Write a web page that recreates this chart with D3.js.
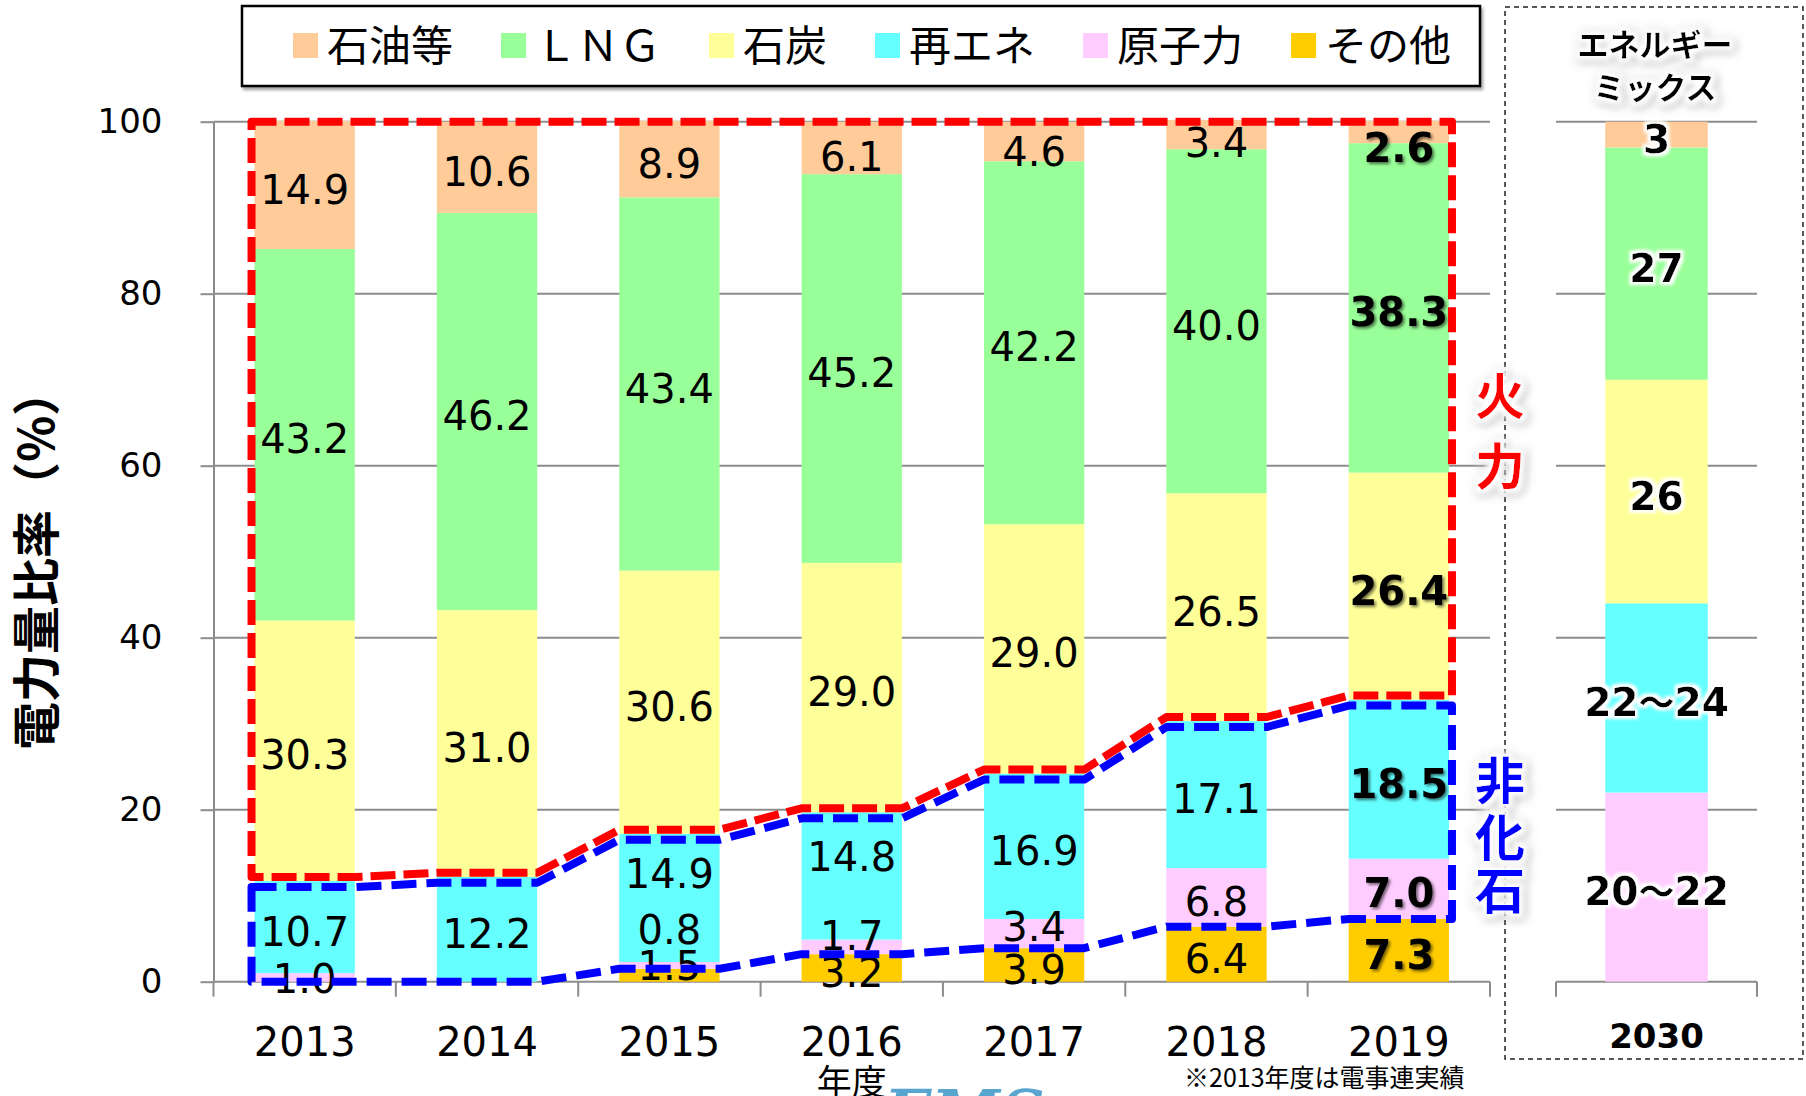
<!DOCTYPE html>
<html>
<head>
<meta charset="utf-8">
<script src="https://cdn.jsdelivr.net/npm/d3@7"></script>
<style>
html, body { margin: 0; padding: 0; background: #fff; }
svg { display: block; }
</style>
</head>
<body>
<svg id="chart" width="1806" height="1096"></svg>
<script>
// ---- data ----
const years = ["2013", "2014", "2015", "2016", "2017", "2018", "2019"];
const seriesKeys = ["other", "nuclear", "renew", "coal", "lng", "oil"]; // bottom -> top
const seriesNames = { oil: "石油等", lng: "ＬＮＧ", coal: "石炭", renew: "再エネ", nuclear: "原子力", other: "その他" };
const legendOrder = ["oil", "lng", "coal", "renew", "nuclear", "other"];

const oil     = [14.9, 10.6, 8.9, 6.1, 4.6, 3.4, 2.6];
const lng     = [43.2, 46.2, 43.4, 45.2, 42.2, 40.0, 38.3];
const coal    = [30.3, 31.0, 30.6, 29.0, 29.0, 26.5, 26.4];
const renew   = [10.7, 12.2, 14.9, 14.8, 16.9, 17.1, 18.5];
const nuclear = [1.0, 0, 0.8, 1.7, 3.4, 6.8, 7.0];
const other   = [0, 0, 1.5, 3.2, 3.9, 6.4, 7.3];

const mixYear = ["2030"];
const mixValues = { oil: 3, lng: 27, coal: 26, renew: 22, nuclear: 22, other: 0 };
const mixLabels = { oil: "3", lng: "27", coal: "26", renew: "22～24", nuclear: "20～22", other: "" };

const yTicks = [0, 20, 40, 60, 80, 100];

const colors = {
    oil: "#FFCC99",
    lng: "#99FF99",
    coal: "#FFFF99",
    renew: "#66FFFF",
    nuclear: "#FFCCFF",
    other: "#FFCC00"
};

// small manual label nudges (px) where the original labels were moved by hand
const labelNudge = {
    "2013|nuclear": -3,
    "2015|renew": -28, "2015|nuclear": -40, "2015|other": -14,
    "2016|renew": -24, "2016|nuclear": -15, "2016|oil": 4,
    "2017|nuclear": -11, "2017|oil": 6,
    "2018|oil": 4,
    "2019|oil": 11
};

// ---- setup ----
const svg = d3.select("#chart");
const numFont = "'DejaVu Sans', Verdana, sans-serif";
const jpFont = "'Noto Sans CJK JP', 'Noto Sans', sans-serif";
const gridColor = "#8c8c8c";

const rows = years.map((yr, i) => ({
    year: yr, oil: oil[i], lng: lng[i], coal: coal[i],
    renew: renew[i], nuclear: nuclear[i], other: other[i]
}));
const mixRows = [{ year: mixYear[0], ...mixValues }];

const x = d3.scaleBand().domain(years).range([213.5, 1490]).paddingInner(0.45).paddingOuter(0.225);
const x2 = d3.scaleBand().domain(mixYear).range([1556, 1757]).paddingInner(0.49).paddingOuter(0.245);
const y = d3.scaleLinear().domain([0, 100]).range([981.7, 121.7]);

const stack = d3.stack().keys(seriesKeys);
const stacked = stack(rows);
const mixStacked = stack(mixRows);

// ---- filters ----
const defs = svg.append("defs");

function dropShadow(id){
    const f = defs.append("filter").attr("id", id)
        .attr("x", "-20%").attr("y", "-20%").attr("width", "150%").attr("height", "150%");
    f.append("feGaussianBlur").attr("in", "SourceAlpha").attr("stdDeviation", 1.5).attr("result", "b");
    f.append("feOffset").attr("in", "b").attr("dx", 2).attr("dy", 2).attr("result", "o");
    f.append("feComponentTransfer").attr("in", "o").attr("result", "s")
        .append("feFuncA").attr("type", "linear").attr("slope", 0.55);
    const m = f.append("feMerge");
    m.append("feMergeNode").attr("in", "s");
    m.append("feMergeNode").attr("in", "SourceGraphic");
}
dropShadow("shadow");

function whiteGlow(id, radius, grey){
    const f = defs.append("filter").attr("id", id)
        .attr("x", "-40%").attr("y", "-40%").attr("width", "180%").attr("height", "180%");
    f.append("feMorphology").attr("in", "SourceAlpha").attr("operator", "dilate").attr("radius", radius).attr("result", "d");
    if (grey){
        f.append("feGaussianBlur").attr("in", "d").attr("stdDeviation", radius + 1).attr("result", "gb");
        f.append("feOffset").attr("in", "gb").attr("dx", 2).attr("dy", 2).attr("result", "gbo");
        f.append("feFlood").attr("flood-color", "#777").attr("flood-opacity", 0.55).attr("result", "gc");
        f.append("feComposite").attr("in", "gc").attr("in2", "gbo").attr("operator", "in").attr("result", "greyHalo");
    }
    f.append("feGaussianBlur").attr("in", "d").attr("stdDeviation", radius * 0.6).attr("result", "wb");
    f.append("feFlood").attr("flood-color", "#fff").attr("result", "wc");
    f.append("feComposite").attr("in", "wc").attr("in2", "wb").attr("operator", "in").attr("result", "whiteHalo");
    const m = f.append("feMerge");
    if (grey) m.append("feMergeNode").attr("in", "greyHalo");
    m.append("feMergeNode").attr("in", "whiteHalo");
    m.append("feMergeNode").attr("in", "SourceGraphic");
}
whiteGlow("glow", 3, false);
whiteGlow("glowShadow", 4, true);

const boxShadow = defs.append("filter").attr("id", "boxShadow")
    .attr("x", "-5%").attr("y", "-20%").attr("width", "110%").attr("height", "150%");
boxShadow.append("feGaussianBlur").attr("in", "SourceAlpha").attr("stdDeviation", 1.5).attr("result", "b");
boxShadow.append("feOffset").attr("in", "b").attr("dx", 2).attr("dy", 3).attr("result", "o");
boxShadow.append("feComponentTransfer").attr("in", "o").attr("result", "s")
    .append("feFuncA").attr("type", "linear").attr("slope", 0.35);
const bm = boxShadow.append("feMerge");
bm.append("feMergeNode").attr("in", "s");
bm.append("feMergeNode").attr("in", "SourceGraphic");

// ---- dashed frame around the 2030 panel ----
svg.append("rect")
    .attr("x", 1505).attr("y", 7).attr("width", 298).attr("height", 1052)
    .attr("fill", "none").attr("stroke", "#222").attr("stroke-width", 1.5)
    .attr("stroke-dasharray", "5,4");

// ---- grid ----
const grid = svg.append("g").attr("stroke", gridColor).attr("stroke-width", 2);
grid.selectAll("line.main").data(yTicks).join("line")
    .attr("class", "main")
    .attr("x1", x.range()[0]).attr("x2", x.range()[1])
    .attr("y1", d => y(d)).attr("y2", d => y(d));
grid.selectAll("line.mix").data(yTicks).join("line")
    .attr("class", "mix")
    .attr("x1", x2.range()[0]).attr("x2", x2.range()[1])
    .attr("y1", d => y(d)).attr("y2", d => y(d));

// y axis
const yAxis = svg.append("g")
    .attr("transform", `translate(${x.range()[0]},0)`)
    .call(d3.axisLeft(y).tickValues(yTicks).tickSize(13).tickSizeOuter(0).tickPadding(38));
yAxis.select(".domain").attr("stroke", gridColor).attr("stroke-width", 2);
yAxis.selectAll(".tick line").attr("stroke", gridColor).attr("stroke-width", 2);
yAxis.selectAll(".tick text")
    .attr("font-family", numFont).attr("font-size", 34).attr("fill", "#000");

// category boundary ticks
const boundaries = d3.range(years.length + 1).map(i => x.range()[0] + i * x.step());
svg.append("g").selectAll("line").data(boundaries).join("line")
    .attr("x1", d => d).attr("x2", d => d)
    .attr("y1", y(0)).attr("y2", y(0) + 15)
    .attr("stroke", gridColor).attr("stroke-width", 2);
svg.append("g").selectAll("line").data(x2.range()).join("line")
    .attr("x1", d => d).attr("x2", d => d)
    .attr("y1", y(0)).attr("y2", y(0) + 15)
    .attr("stroke", gridColor).attr("stroke-width", 2);

// x labels
const xAxis = svg.append("g")
    .attr("transform", `translate(0,${y(0)})`)
    .call(d3.axisBottom(x).tickSize(0).tickPadding(46));
xAxis.select(".domain").remove();
xAxis.selectAll(".tick text").attr("font-family", numFont).attr("font-size", 40).attr("fill", "#000");

const x2Axis = svg.append("g")
    .attr("transform", `translate(0,${y(0)})`)
    .call(d3.axisBottom(x2).tickSize(0).tickPadding(42));
x2Axis.select(".domain").remove();
x2Axis.selectAll(".tick text").attr("font-family", numFont).attr("font-size", 34)
    .attr("font-weight", "bold").attr("fill", "#000");

// ---- bars ----
const barG = svg.append("g");
barG.selectAll("g").data(stacked).join("g")
    .attr("fill", d => colors[d.key])
    .selectAll("rect").data(d => d).join("rect")
        .attr("x", d => x(d.data.year))
        .attr("width", x.bandwidth())
        .attr("y", d => y(d[1]))
        .attr("height", d => y(d[0]) - y(d[1]));

barG.selectAll("g.mix").data(mixStacked).join("g")
    .attr("class", "mix")
    .attr("fill", d => colors[d.key])
    .selectAll("rect").data(d => d).join("rect")
        .attr("x", d => x2(d.data.year))
        .attr("width", x2.bandwidth())
        .attr("y", d => y(d[1]))
        .attr("height", d => y(d[0]) - y(d[1]));

// ---- value labels ----
const labelData = [];
stacked.forEach(s => s.forEach(d => {
    const v = d.data[s.key];
    if (v > 0) labelData.push({ key: s.key, year: d.data.year, v: v, mid: (d[0] + d[1]) / 2 });
}));

svg.append("g").selectAll("text").data(labelData).join("text")
    .attr("x", d => x(d.year) + x.bandwidth() / 2)
    .attr("y", d => y(d.mid) + 4 + (labelNudge[d.year + "|" + d.key] || 0))
    .attr("dy", "0.365em")
    .attr("text-anchor", "middle")
    .attr("font-family", numFont)
    .attr("font-size", 40)
    .attr("font-weight", d => d.year === "2019" ? "bold" : "normal")
    .attr("filter", d => d.year === "2019" ? "url(#shadow)" : null)
    .attr("fill", "#000")
    .text(d => d.v.toFixed(1));

const mixLabelData = [];
mixStacked.forEach(s => s.forEach(d => {
    if (mixLabels[s.key]) mixLabelData.push({ key: s.key, year: d.data.year, mid: (d[0] + d[1]) / 2 });
}));
const mixText = svg.append("g").selectAll("text").data(mixLabelData).join("text")
    .attr("x", d => x2(d.year) + x2.bandwidth() / 2)
    .attr("y", d => y(d.mid) + 4)
    .attr("dy", "0.365em")
    .attr("text-anchor", "middle")
    .attr("font-family", numFont)
    .attr("font-size", 39)
    .attr("font-weight", "bold")
    .attr("filter", "url(#glow)")
    .attr("fill", "#000");
// split ranges so the wave dash comes from the Japanese font
mixText.each(function(d){
    const parts = mixLabels[d.key].split("～");
    const t = d3.select(this);
    parts.forEach((p, i) => {
        if (i > 0) t.append("tspan").attr("font-family", jpFont).attr("font-size", 36).text("～");
        t.append("tspan").text(p);
    });
});

// ---- dashed outlines: fossil (red) / non-fossil (blue) ----
const fossilBottom = rows.map(r => r.other + r.nuclear + r.renew);
const otherTop = rows.map(r => r.other);
const left = i => x(years[i]);
const right = i => x(years[i]) + x.bandwidth();
const n = years.length;
const xL = left(0) - 3, xR = right(n - 1) + 3;

const redPts = [[xL, y(100)], [xR, y(100)], [xR, y(fossilBottom[n - 1]) - 4]];
for (let i = n - 1; i >= 0; i--){
    redPts.push([right(i), y(fossilBottom[i]) - 4]);
    redPts.push([left(i), y(fossilBottom[i]) - 4]);
}
redPts.push([xL, y(fossilBottom[0]) - 4]);

const bluePts = [[xL, y(fossilBottom[0]) + 6]];
for (let i = 0; i < n; i++){
    bluePts.push([left(i), y(fossilBottom[i]) + 6]);
    bluePts.push([right(i), y(fossilBottom[i]) + 6]);
}
bluePts.push([xR, y(fossilBottom[n - 1]) + 6]);
bluePts.push([xR, y(otherTop[n - 1])]);
for (let i = n - 1; i >= 0; i--){
    bluePts.push([right(i), y(otherTop[i])]);
    bluePts.push([left(i), y(otherTop[i])]);
}
bluePts.push([xL, y(otherTop[0])]);

const line = d3.line();
svg.append("path")
    .attr("d", line(redPts) + "Z")
    .attr("fill", "none").attr("stroke", "#FF0000").attr("stroke-width", 8)
    .attr("stroke-dasharray", "25,8").attr("stroke-linejoin", "round");
svg.append("path")
    .attr("d", line(bluePts) + "Z")
    .attr("fill", "none").attr("stroke", "#0000FF").attr("stroke-width", 8)
    .attr("stroke-dasharray", "25,10").attr("stroke-linejoin", "round");

// side labels
function verticalText(chars, cx, ys, color){
    const g = svg.append("g").attr("filter", "url(#glowShadow)");
    g.selectAll("text").data(chars).join("text")
        .attr("x", cx).attr("y", (d, i) => ys[i])
        .attr("dy", "0.38em")
        .attr("text-anchor", "middle")
        .attr("font-family", jpFont).attr("font-weight", "bold").attr("font-size", 50)
        .attr("fill", color)
        .text(d => d);
    return g;
}
verticalText(["火", "力"], 1500, [396, 466], "#FF0000");
verticalText(["非", "化", "石"], 1500, [780, 837, 890], "#0000FF");

// ---- legend ----
svg.append("rect")
    .attr("x", 242).attr("y", 6).attr("width", 1238).attr("height", 80)
    .attr("fill", "#fff").attr("stroke", "#000").attr("stroke-width", 2.5)
    .attr("filter", "url(#boxShadow)");
const legend = svg.append("g");
let cursor = 293;
legendOrder.forEach(k => {
    legend.append("rect")
        .attr("x", cursor).attr("y", 33).attr("width", 25).attr("height", 25)
        .attr("fill", colors[k]);
    const t = legend.append("text")
        .attr("x", cursor + 34).attr("y", 45.5).attr("dy", "0.36em")
        .attr("font-family", jpFont).attr("font-size", 42).attr("fill", "#000")
        .text(seriesNames[k]);
    cursor += 34 + t.node().getComputedTextLength() + 48;
});

// 2030 panel title
svg.append("g").attr("filter", "url(#glowShadow)")
    .selectAll("text").data(["エネルギー", "ミックス"]).join("text")
        .attr("x", 1655).attr("y", (d, i) => 45 + i * 43).attr("dy", "0.36em")
        .attr("text-anchor", "middle")
        .attr("font-family", jpFont).attr("font-weight", "bold").attr("font-size", 31)
        .attr("fill", "#000")
        .text(d => d);

// y axis title
svg.append("text")
    .attr("transform", "translate(37,559) rotate(-90)")
    .attr("dy", "0.36em")
    .attr("text-anchor", "middle")
    .attr("font-family", jpFont).attr("font-weight", "bold").attr("font-size", 48)
    .attr("fill", "#000")
    .text("電力量比率（%）");

// x axis title
svg.append("text")
    .attr("x", (x.range()[0] + x.range()[1]) / 2).attr("y", 1095)
    .attr("text-anchor", "middle")
    .attr("font-family", jpFont).attr("font-size", 35).attr("fill", "#000")
    .text("年度");

// partial logo peeking in at the bottom edge
svg.append("text")
    .attr("x", 884).attr("y", 1134)
    .attr("font-family", "'DejaVu Serif', serif").attr("font-style", "italic")
    .attr("font-weight", "bold").attr("font-size", 62)
    .attr("fill", "#2f8fc4").attr("opacity", 0.8)
    .text("EMS");

// footnote
svg.append("text")
    .attr("x", 1184).attr("y", 1087)
    .attr("font-family", jpFont).attr("font-size", 25).attr("fill", "#000")
    .text("※2013年度は電事連実績");
</script>
</body>
</html>
